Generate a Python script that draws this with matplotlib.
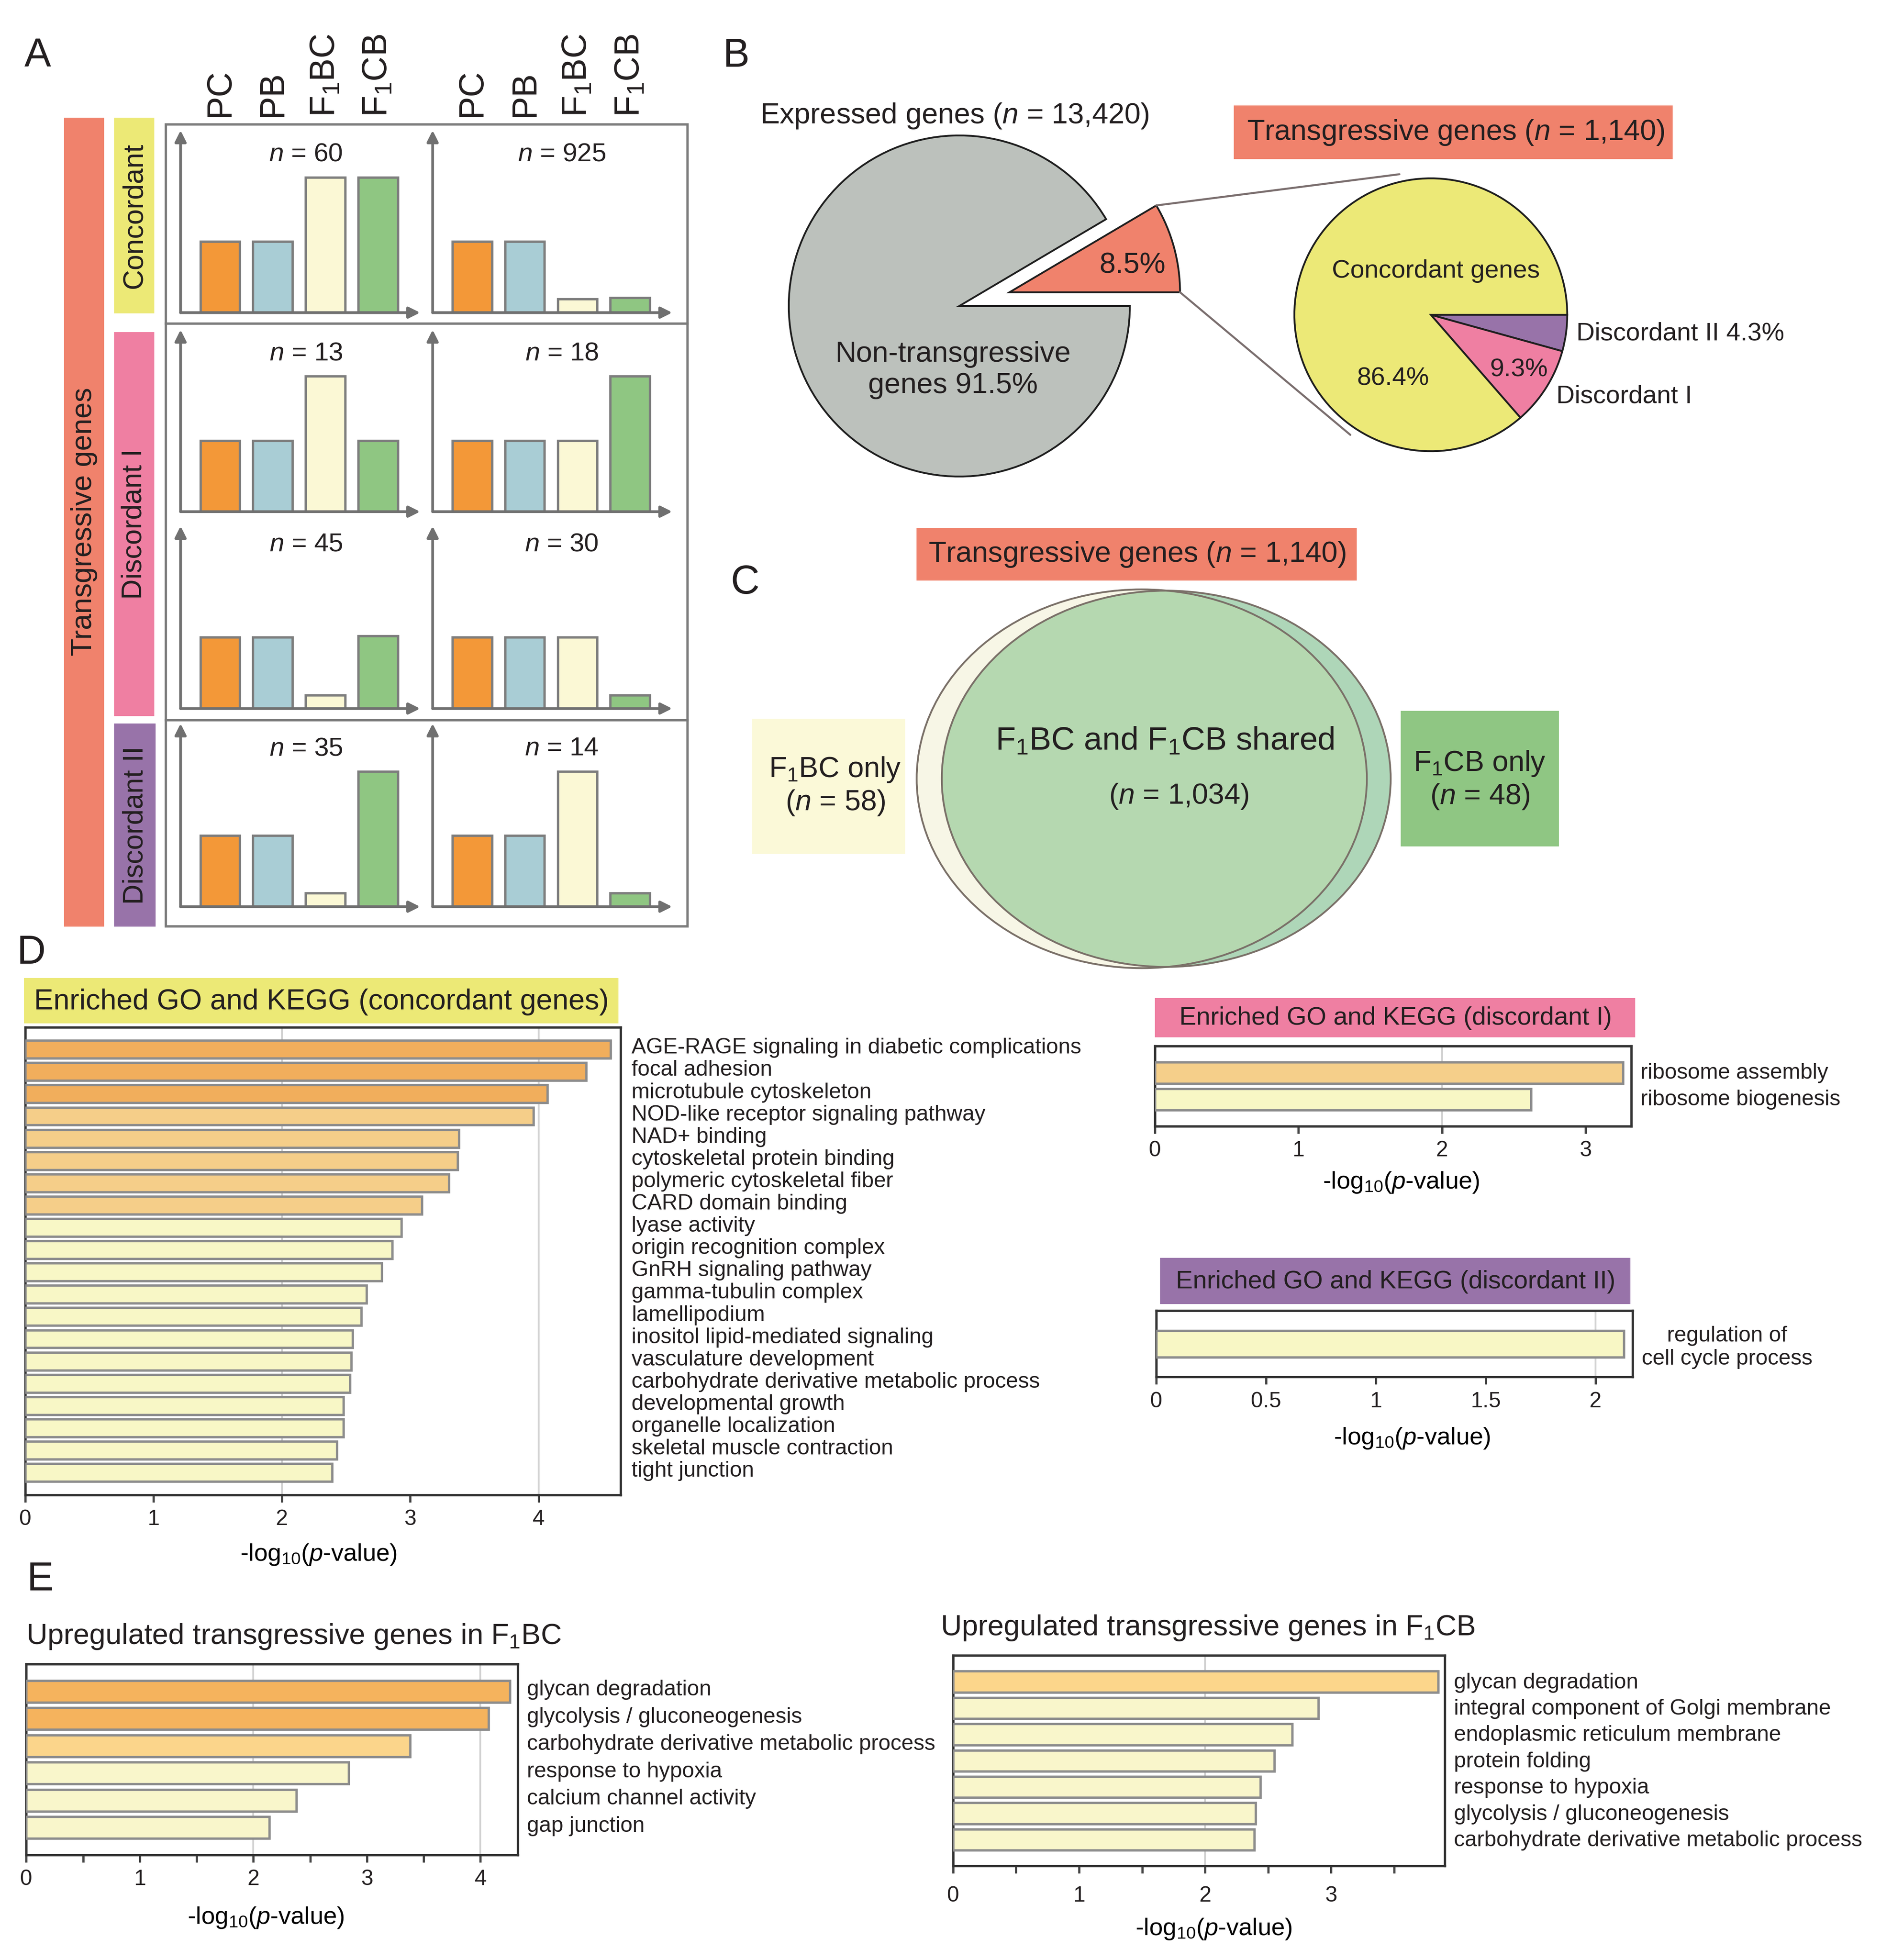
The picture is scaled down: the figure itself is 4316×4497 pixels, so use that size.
import numpy as np
import matplotlib
matplotlib.use("Agg")
import matplotlib.pyplot as plt
import matplotlib.transforms as mtrans
from matplotlib.patches import Rectangle, Ellipse, ConnectionPatch

plt.rcParams['font.family'] = ['Liberation Sans', 'DejaVu Sans']
plt.rcParams['mathtext.fontset'] = 'custom'
plt.rcParams['mathtext.rm'] = 'Liberation Sans'
plt.rcParams['mathtext.it'] = 'Liberation Sans:italic'
plt.rcParams['mathtext.bf'] = 'Liberation Sans:bold'
plt.rcParams['text.color'] = '#231f20'

# ---------------- data ----------------
# Panel A: relative expression (parent = 1)
groups = ['PC', 'PB', r'F$_1$BC', r'F$_1$CB']
a_n = [60, 925, 13, 18, 45, 30, 35, 14]
a_pc = [1.0, 1.0, 1.0, 1.0, 1.0, 1.0, 1.0, 1.0]
a_pb = [1.0, 1.0, 1.0, 1.0, 1.0, 1.0, 1.0, 1.0]
a_f1bc = [1.9, 0.19, 1.9, 1.0, 0.19, 1.0, 0.19, 1.9]
a_f1cb = [1.9, 0.21, 1.0, 1.9, 1.02, 0.19, 1.9, 0.19]

# Panel B
expr_pct = [8.5, 91.5]          # transgressive, non-transgressive
trans_pct = [4.3, 9.3, 86.4]    # discordant II, discordant I, concordant

# Panel C
venn_counts = [58, 1034, 48]    # F1BC only, shared, F1CB only
n_expressed = '13,420'
n_trans = '1,140'

# Panel D
conc_terms = ['AGE-RAGE signaling in diabetic complications', 'focal adhesion',
              'microtubule cytoskeleton', 'NOD-like receptor signaling pathway',
              'NAD+ binding', 'cytoskeletal protein binding', 'polymeric cytoskeletal fiber',
              'CARD domain binding', 'lyase activity', 'origin recognition complex',
              'GnRH signaling pathway', 'gamma-tubulin complex', 'lamellipodium',
              'inositol lipid-mediated signaling', 'vasculature development',
              'carbohydrate derivative metabolic process', 'developmental growth',
              'organelle localization', 'skeletal muscle contraction', 'tight junction']
conc_vals = [4.56, 4.37, 4.07, 3.96, 3.38, 3.37, 3.30, 3.09, 2.93, 2.86,
             2.78, 2.66, 2.62, 2.55, 2.54, 2.53, 2.48, 2.48, 2.43, 2.39]
disc1_terms = ['ribosome assembly', 'ribosome biogenesis']
disc1_vals = [3.26, 2.62]
disc2_terms = ['regulation of\ncell cycle process']
disc2_vals = [2.13]

# Panel E
bc_terms = ['glycan degradation', 'glycolysis / gluconeogenesis',
            'carbohydrate derivative metabolic process', 'response to hypoxia',
            'calcium channel activity', 'gap junction']
bc_vals = [4.26, 4.07, 3.38, 2.84, 2.38, 2.14]
cb_terms = ['glycan degradation', 'integral component of Golgi membrane',
            'endoplasmic reticulum membrane', 'protein folding', 'response to hypoxia',
            'glycolysis / gluconeogenesis', 'carbohydrate derivative metabolic process']
cb_vals = [3.85, 2.90, 2.69, 2.55, 2.44, 2.40, 2.39]

# ---------------- colours ----------------
SALMON = '#f0826c'
YEL = '#ece976'
PINK = '#ef7fa2'
PURP = '#9873a9'
GRAYL = '#707070'
bar_cols = ['#f39838', '#a9cdd5', '#fbf8d5', '#8fc682']

W = 1500.0
H = 4497 / (4316 / W)


def rect(x0, y0, x1, y1):
    return [x0 / W, 1 - y1 / H, (x1 - x0) / W, (y1 - y0) / H]


fig = plt.figure(figsize=(4316 / 300, 4497 / 300), dpi=300)
fig.patch.set_facecolor('white')

bg = fig.add_axes([0, 0, 1, 1], zorder=-5)
bg.set_xlim(0, W); bg.set_ylim(H, 0); bg.axis('off')
top = fig.add_axes([0, 0, 1, 1], zorder=20)
top.set_xlim(0, W); top.set_ylim(H, 0); top.axis('off')


def box(x0, y0, x1, y1, fc, ec='none', lw=0):
    bg.add_patch(Rectangle((x0, y0), x1 - x0, y1 - y0, facecolor=fc, edgecolor=ec, linewidth=lw))


def txt(x, y, s, size, ha='center', va='center', rot=0, **kw):
    top.text(x, y, s, fontsize=size, ha=ha, va=va, rotation=rot, **kw)


# ---------------- panel A ----------------
txt(30, 45, 'A', 22)
box(51, 94, 83, 739, SALMON)
box(91, 94, 123, 250, YEL)
box(91, 265, 123, 571, PINK)
box(91, 577, 124, 739, PURP)
txt(67, 416, 'Transgressive genes', 16, rot=90)
txt(107, 172, 'Concordant', 15.5, rot=90)
txt(107, 418, 'Discordant I', 15.5, rot=90)
txt(108, 658, 'Discordant II', 15.5, rot=90)

box(132, 99, 548, 738.5, 'none', ec='#7b7b7b', lw=1.3)
bg.plot([132, 548], [258, 258], color='#7b7b7b', lw=1.3)
bg.plot([132, 548], [574, 574], color='#7b7b7b', lw=1.3)

rows = [(104, 249.3), (263, 408), (419.5, 565), (577, 723)]
cols = [(144, 335), (345, 536)]
n_y = [123, 282, 434, 597]
n_x = [244, 448]
unit = 56.8
for k in range(8):
    r, c = divmod(k, 2)
    y0, y1 = rows[r]
    x0, x1 = cols[c]
    ax = fig.add_axes(rect(x0, y0, x1, y1))
    ax.set_facecolor('none')
    vals = [a_pc[k], a_pb[k], a_f1bc[k], a_f1cb[k]]
    ax.bar(range(4), vals, width=0.75, color=bar_cols, edgecolor='#7d7d7d', linewidth=1.3, zorder=2)
    ax.set_xlim(-0.75, 3.8)
    ax.set_ylim(0, (y1 - y0) / unit)
    ax.axis('off')
    ap = dict(arrowstyle='-|>', color=GRAYL, lw=1.5, mutation_scale=13, shrinkA=0, shrinkB=0)
    ax.annotate('', xy=(0, 1), xytext=(0, 0), xycoords='axes fraction', arrowprops=ap, zorder=3)
    ax.annotate('', xy=(1, 0), xytext=(0, 0), xycoords='axes fraction', arrowprops=ap, zorder=3)
    txt(n_x[c], n_y[r], r'$n$ = %d' % a_n[k], 14.5)
    if r == 0:
        for i, g in enumerate(groups):
            ax.text(i, 1 + 11 / (y1 - y0), g, transform=ax.get_xaxis_transform(),
                    rotation=90, ha='center', va='bottom', fontsize=19)

# ---------------- panel B ----------------
txt(587, 45, 'B', 22)
txt(761, 92.5, r'Expressed genes ($n$ = %s)' % n_expressed, 16)
box(984, 84, 1334, 127, SALMON)
txt(1161, 105.5, r'Transgressive genes ($n$ = %s)' % n_trans, 16)

cx, cy, R = 765, 244, 136
axb = fig.add_axes(rect(cx - 1.5 * R, cy - 1.5 * R, cx + 1.5 * R, cy + 1.5 * R))
expl = 0.305
axb.pie(expr_pct, explode=[expl, 0], startangle=0, counterclock=True,
        colors=[SALMON, '#bcc1bc'], wedgeprops=dict(edgecolor='#1e1e1e', linewidth=1.0))
axb.set_xlim(-1.5, 1.5); axb.set_ylim(-1.5, 1.5); axb.set_aspect('equal')
axb.axis('off')

sx, sy, sR = 1141, 251, 108.8
axs = fig.add_axes(rect(sx - 1.25 * sR, sy - 1.25 * sR, sx + 1.25 * sR, sy + 1.25 * sR))
axs.pie(trans_pct, startangle=0, counterclock=False, colors=[PURP, PINK, '#ece977'],
        wedgeprops=dict(edgecolor='#1e1e1e', linewidth=1.0))
axs.set_xlim(-1.25, 1.25); axs.set_ylim(-1.25, 1.25); axs.set_aspect('equal')
axs.axis('off')

ang = np.deg2rad(360 * expr_pct[0] / 100)
off = expl * np.array([np.cos(ang / 2), np.sin(ang / 2)])
up = off + [np.cos(ang), np.sin(ang)]
lo = off + [1.0, 0.0]
for pA, pB in [(up, (-0.23, 1.03)), (lo, (-0.59, -0.88))]:
    con = ConnectionPatch(xyA=tuple(pA), xyB=pB, coordsA='data', coordsB='data',
                          axesA=axb, axesB=axs, color='#7a6e6e', lw=1.1)
    fig.add_artist(con)

txt(903, 212, '%.1f%%' % expr_pct[0], 16)
txt(760, 295, 'Non-transgressive\ngenes %.1f%%' % expr_pct[1], 16)
txt(1145, 216, 'Concordant genes', 14)
txt(1111, 302, '%.1f%%' % trans_pct[2], 14)
txt(1211, 295, '%.1f%%' % trans_pct[1], 14)
txt(1257, 266, 'Discordant II %.1f%%' % trans_pct[0], 14, ha='left')
txt(1241, 316, 'Discordant I', 14, ha='left')

# ---------------- panel C ----------------
txt(594, 465, 'C', 22)
box(731, 421, 1082, 463, SALMON)
txt(907, 442, r'Transgressive genes ($n$ = %s)' % n_trans, 16)

e_bc = Ellipse((910.5, 621), 359, 302, facecolor='#f7f6e6', edgecolor='none')
e_cb = Ellipse((930, 621), 358, 300, facecolor='#aed6b8', edgecolor='none')
bg.add_patch(e_bc)
bg.add_patch(e_cb)
e_sh = Ellipse((910.5, 621), 359, 302, facecolor='#b5d8b0', edgecolor='none')
bg.add_patch(e_sh)
e_sh.set_clip_path(e_cb)
for e in [(910.5, 621, 359, 302), (930, 621, 358, 300)]:
    bg.add_patch(Ellipse(e[:2], e[2], e[3], fill=False, edgecolor='#7a7068', linewidth=1.0))

txt(929, 591, r'F$_1$BC and F$_1$CB shared', 18)
txt(940, 635, r'($n$ = %s)' % f'{venn_counts[1]:,}', 16)
box(600, 573, 722, 681, '#fbf9d8')
txt(666, 627, r'F$_1$BC only' + '\n' + r'($n$ = %d)' % venn_counts[0], 16)
box(1117, 567, 1243, 675, '#8fc683')
txt(1180, 622, r'F$_1$CB only' + '\n' + r'($n$ = %d)' % venn_counts[2], 16)


# ---------------- GO bar helper ----------------
def go_panel(bx, terms, vals, colors, xmax, ticks, minor, grids, lab_xy, tpad, lpad, dy=0.0):
    ax = fig.add_axes(rect(*bx))
    y = np.arange(len(vals))
    ax.barh(y, vals, height=0.8, color=colors, edgecolor='#8c8c8c', linewidth=1.3, zorder=3)
    for g in grids:
        ax.axvline(g, color='#d2d2d2', lw=1.0, zorder=1)
    ax.set_xlim(0, xmax)
    ax.set_ylim(len(vals), -1)
    ax.set_xticks(ticks)
    ax.set_xticklabels(['%g' % t for t in ticks])
    if minor is not None:
        ax.set_xticks(minor, minor=True)
    ax.tick_params(axis='x', which='both', length=4, width=1.2, color='#444444',
                   labelsize=12, pad=tpad, labelcolor='#231f20')
    ax.set_yticks(y)
    ax.set_yticklabels(terms, fontsize=12, multialignment='center')
    ax.yaxis.tick_right()
    ax.tick_params(axis='y', length=0, pad=lpad, labelcolor='#231f20')
    if dy:
        shift = mtrans.ScaledTranslation(0, dy / 72, fig.dpi_scale_trans)
        for lab in ax.get_yticklabels():
            lab.set_transform(lab.get_transform() + shift)
    for s in ax.spines.values():
        s.set_color('#333333')
        s.set_linewidth(1.3)
    ax.set_xlabel(r'-log$_{10}$($p$-value)', fontsize=13.5, va='center')
    ax.xaxis.set_label_coords(*lab_xy)
    return ax


# ---------------- panel D ----------------
txt(25, 760, 'D', 22)
box(19, 780, 493, 816, YEL)
txt(27, 799, 'Enriched GO and KEGG (concordant genes)', 16, ha='left')
go_panel((20, 819, 495, 1192), conc_terms, conc_vals,
         ['#f1ae5c'] * 3 + ['#f5ce89'] * 5 + ['#f8f7c6'] * 12,
         4.64, [0, 1, 2, 3, 4], None, [2, 4], (0.493, -0.128), 4, 6, dy=2.0)

box(921, 796, 1304, 827, PINK)
txt(1113, 812, 'Enriched GO and KEGG (discordant I)', 14)
go_panel((921, 834, 1301, 898), disc1_terms, disc1_vals, ['#f5cf8a', '#f8f7c5'],
         3.32, [0, 1, 2, 3], None, [2], (0.517, -0.70), 4, 5, dy=1.0)

box(925, 1003, 1300, 1040, PURP)
txt(1113, 1022, 'Enriched GO and KEGG (discordant II)', 14)
go_panel((922, 1045, 1302, 1098), disc2_terms, disc2_vals, ['#f8f7c5'],
         2.17, [0, 0.5, 1, 1.5, 2], None, [2], (0.537, -0.92), 4, 5)

# ---------------- panel E ----------------
txt(32, 1260, 'E', 22)
txt(21, 1305, r'Upregulated transgressive genes in F$_1$BC', 16, ha='left')
go_panel((21, 1327, 413, 1479), bc_terms, bc_vals,
         ['#f5b35d'] * 2 + ['#fbd58b'] + ['#f9f6cb'] * 3,
         4.33, [0, 1, 2, 3, 4], np.arange(0, 4.01, 0.5), [2, 4], (0.487, -0.33), 4, 5, dy=2.0)

txt(750, 1298, r'Upregulated transgressive genes in F$_1$CB', 16, ha='left')
go_panel((760, 1320, 1152, 1488), cb_terms, cb_vals,
         ['#fcd68b'] + ['#f9f6cb'] * 6,
         3.90, [0, 1, 2, 3], np.arange(0, 3.51, 0.5), [2], (0.53, -0.30), 7, 5, dy=0.7)

fig.savefig('out.png', dpi=300, facecolor='white')
